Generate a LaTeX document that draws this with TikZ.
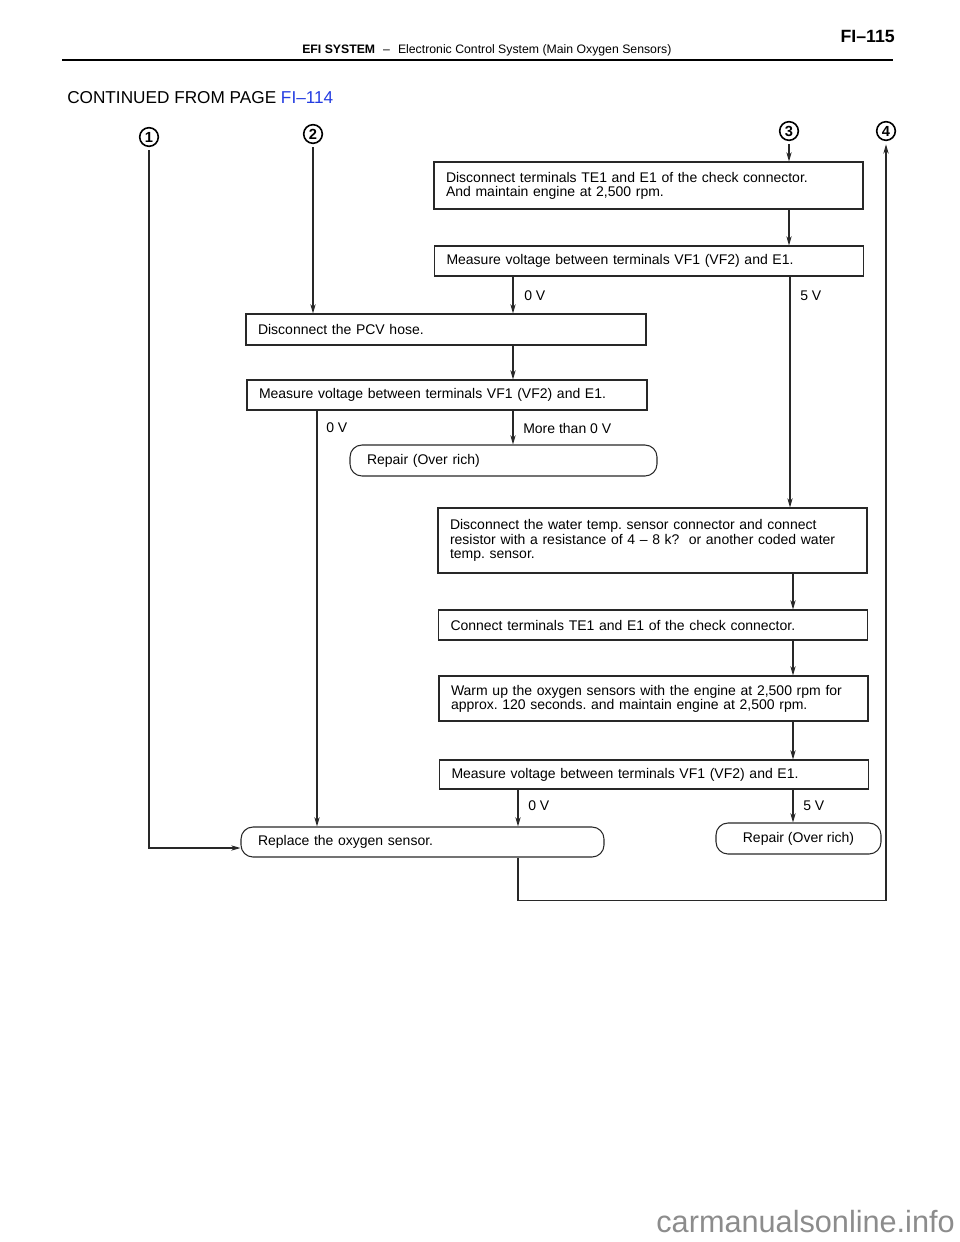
\documentclass[tikz,border=0pt]{standalone}
\usepackage{fontspec}
\setmainfont{Liberation Sans}
\usetikzlibrary{arrows.meta}
\definecolor{linkblue}{RGB}{35,60,225}
\definecolor{inkgray}{RGB}{40,40,40}
\newcommand{\boxfont}{\fontsize{10.5pt}{10.6pt}\selectfont}
\frenchspacing

\begin{document}
\begin{tikzpicture}[x=0.75pt,y=0.75pt,yscale=-1,xscale=1,
    stepbox/.style={draw=inkgray, line width=0.8pt, align=left, inner xsep=9pt, inner ysep=0pt, font=\boxfont, text width=303.75pt},
    endbox/.style={draw=inkgray, line width=0.8pt, rounded corners=9pt, align=left, inner xsep=12.75pt, inner ysep=0pt, font=\boxfont},
    numcirc/.style={circle, draw, line width=1.2pt, minimum size=14pt, inner sep=0pt, outer sep=3pt, font=\bfseries\fontsize{11pt}{11pt}\selectfont},
    lbl/.style={anchor=west, inner sep=0pt, font=\boxfont},
    link/.style={draw=inkgray, line width=0.8pt},
    arr/.style={link, -{Stealth[length=7pt,width=4pt]}}]
  \useasboundingbox (0,0) rectangle (960,1242);

  % page header
  \node[anchor=east, inner sep=0pt, font=\bfseries\fontsize{13.3pt}{14pt}\selectfont] (pagenum) at (895,36) {FI–115};
  \node[anchor=west, inner sep=0pt, font=\fontsize{9.2pt}{10pt}\selectfont] (header) at (302,50) {\textbf{EFI SYSTEM}\hspace{6pt}–\hspace{6pt}Electronic Control System (Main Oxygen Sensors)};
  \draw[line width=1.5pt] (62,60) -- (893,60);
  \node[anchor=west, inner sep=0pt, font=\fontsize{12.9pt}{14pt}\selectfont] (contd) at (67,98) {CONTINUED FROM PAGE \textcolor{linkblue}{FI–114}};

  % entry points
  \node[numcirc] (n1) at (149,137) {1};
  \node[numcirc] (n2) at (313,134) {2};
  \node[numcirc] (n3) at (789,131) {3};
  \node[numcirc] (n4) at (886,131) {4};

  % steps
  \node[stepbox, minimum height=35.25pt] (dis) at (648.5,185.5) {Disconnect terminals TE1 and E1 of the check connector.\\And maintain engine at 2,500 rpm.};
  \node[stepbox, minimum height=22.5pt] (meas1) at (649,261) {Measure voltage between terminals VF1 (VF2) and E1.};
  \node[stepbox, text width=282pt, minimum height=23.25pt] (pcv) at (446,329.5) {Disconnect the PCV hose.};
  \node[stepbox, text width=282pt, minimum height=22.5pt] (meas2) at (447,395) {Measure voltage between terminals VF1 (VF2) and E1.};
  \node[endbox, text width=204.75pt, minimum height=23.25pt] (rep1) at (503.5,460.5) {Repair (Over rich)};
  \node[stepbox, minimum height=48.75pt] (water) at (652.5,540.5) {Disconnect the water temp. sensor connector and connect\\resistor with a resistance of 4 – 8 k?\ \ or another coded water\\temp. sensor.};
  \node[stepbox, minimum height=22.5pt] (conn) at (653,625) {Connect terminals TE1 and E1 of the check connector.};
  \node[stepbox, minimum height=33.75pt] (warm) at (653.5,698.5) {Warm up the oxygen sensors with the engine at 2,500 rpm for\\approx. 120 seconds. and maintain engine at 2,500 rpm.};
  \node[stepbox, minimum height=21.75pt] (meas3) at (654,774.5) {Measure voltage between terminals VF1 (VF2) and E1.};
  \node[endbox, text width=246.75pt, minimum height=22.5pt] (repl) at (422.5,842) {Replace the oxygen sensor.};
  \node[endbox, align=center, minimum width=123.75pt, minimum height=23.25pt] (rep2) at (798.5,838.5) {Repair (Over rich)};

  % columns of the connectors
  \coordinate (cl) at (317,0);
  \coordinate (cm) at (513,0);
  \coordinate (cb) at (518,0);
  \coordinate (cr) at (790,0);
  \coordinate (crr) at (793,0);

  \draw[arr] (n1) |- ([yshift=4.5pt]repl.west);
  \draw[arr] (n2) -- (n2 |- pcv.north);
  \draw[arr] (n3) -- (n3 |- dis.north);
  \draw[arr] (dis.south -| n3) -- (meas1.north -| n3);
  \draw[arr] (meas1.south -| cm) -- (pcv.north -| cm);
  \draw[arr] (meas1.south -| cr) -- (water.north -| cr);
  \draw[arr] (pcv.south -| cm) -- (meas2.north -| cm);
  \draw[arr] (meas2.south -| cm) -- (rep1.north -| cm);
  \draw[arr] (meas2.south -| cl) -- (repl.north -| cl);
  \draw[arr] (water.south -| crr) -- (conn.north -| crr);
  \draw[arr] (conn.south -| crr) -- (warm.north -| crr);
  \draw[arr] (warm.south -| crr) -- (meas3.north -| crr);
  \draw[arr] (meas3.south -| cb) -- (repl.north -| cb);
  \draw[arr] (meas3.south -| crr) -- (rep2.north -| crr);
  \draw[arr] (repl.south -| cb) -- ++(0,43) -| (n4);

  % branch labels
  \node[lbl] (v0a) at (524,296) {0 V};
  \node[lbl] (v5a) at (800,296) {5 V};
  \node[lbl] (v0b) at (326,428) {0 V};
  \node[lbl] (vmore) at (523,428) {More than 0 V};
  \node[lbl] (v0c) at (528,806) {0 V};
  \node[lbl] (v5c) at (803,806) {5 V};

  \node[anchor=east, inner sep=0pt, text=black!45, font=\fontsize{23pt}{24pt}\selectfont] (wmark) at (955,1222) {carmanualsonline.info};
\end{tikzpicture}
\end{document}
